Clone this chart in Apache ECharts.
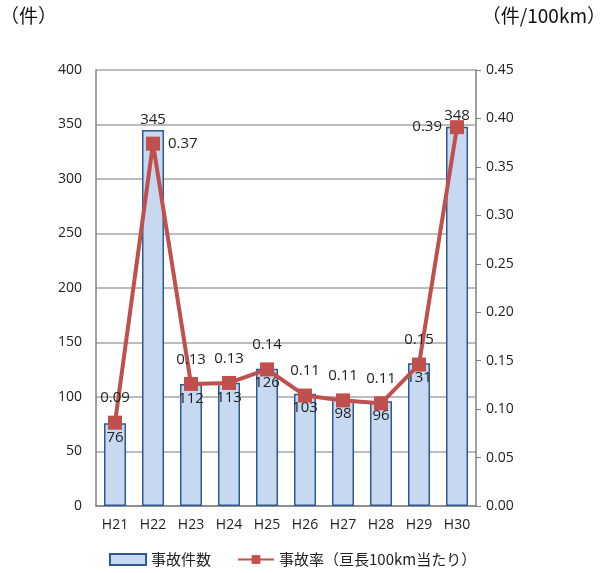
<!DOCTYPE html>
<html><head><meta charset="utf-8">
<script src="https://cdn.jsdelivr.net/npm/echarts@6/dist/echarts.min.js"></script>
<style>html,body{margin:0;padding:0;background:#fff}#c{width:606px;height:573px}</style>
</head><body><div id="c"></div>
<script>
const categories = ['H21','H22','H23','H24','H25','H26','H27','H28','H29','H30'];
const accidentCounts = [76,345,112,113,126,103,98,96,131,348];
const accidentRates = [0.086,0.374,0.126,0.127,0.141,0.114,0.109,0.106,0.146,0.391];
const countLabelPos = ['insideTop','top','insideTop','insideTop','insideTop','insideTop','insideTop','insideTop','insideTop','top'];
const rateLabelPos = ['top','right','top','top','top','top','top','top','top','left'];
const countTicks = {min:0,max:400,interval:50};
const rateTicks = {min:0,max:0.45,interval:0.05};

const font = '"Open Sans","Noto Sans CJK JP",sans-serif';
const jp = '"Noto Sans CJK JP",sans-serif';
const chart = echarts.init(document.getElementById('c'));
chart.setOption({
  animation:false,
  textStyle:{fontFamily:font},
  grid:{left:96,right:130,top:70,bottom:67},
  legend:{
    bottom:1,left:104,itemGap:26,itemWidth:36,itemHeight:11,
    textStyle:{fontSize:15,color:'#222',fontFamily:jp},
    data:[{name:'事故件数',icon:'rect'},{name:'事故率（亘長100km当たり）'}]
  },
  graphic:[
    {type:'text',left:0,top:6,style:{text:'（件）',fontSize:19,fill:'#111',fontFamily:jp}},
    {type:'text',right:0,top:6,style:{text:'（件/100km）',fontSize:19,fill:'#111',fontFamily:jp}}
  ],
  xAxis:{type:'category',data:categories,
    axisLine:{lineStyle:{color:'#808080',width:1.5}},axisTick:{show:false},
    axisLabel:{color:'#222',fontSize:14,margin:12}},
  yAxis:[
    {type:'value',min:countTicks.min,max:countTicks.max,interval:countTicks.interval,
     axisLine:{show:true,lineStyle:{color:'#808080',width:1.5}},axisTick:{show:false},
     splitLine:{lineStyle:{color:'#a6a6a6',width:1.5}},
     axisLabel:{color:'#222',fontSize:14,margin:14}},
    {type:'value',min:rateTicks.min,max:rateTicks.max,interval:rateTicks.interval,
     axisLine:{show:true,lineStyle:{color:'#808080',width:1.5}},
     axisTick:{show:true,length:5,lineStyle:{color:'#808080'}},
     splitLine:{show:false},
     axisLabel:{color:'#222',fontSize:14,margin:10,formatter:v=>v.toFixed(2)}}
  ],
  series:[
    {name:'事故件数',type:'bar',yAxisIndex:0,barWidth:22,
     itemStyle:{color:'#c6d9f1',borderColor:'#2e5a94',borderWidth:1.5},
     data:accidentCounts.map((v,i)=>({value:v,label:{show:true,position:countLabelPos[i],distance:countLabelPos[i]==='top'?3:7,color:'#222',fontSize:15}}))},
    {name:'事故率（亘長100km当たり）',type:'line',yAxisIndex:1,
     symbol:'rect',symbolSize:14,
     lineStyle:{color:'#c0504d',width:4},
     itemStyle:{color:'#c0504d'},
     data:accidentRates.map((v,i)=>({value:v,label:{show:true,position:rateLabelPos[i],distance:rateLabelPos[i]==='top'?10:8,color:'#222',fontSize:15,formatter:p=>p.value.toFixed(2)}}))}
  ]
});
</script></body></html>
